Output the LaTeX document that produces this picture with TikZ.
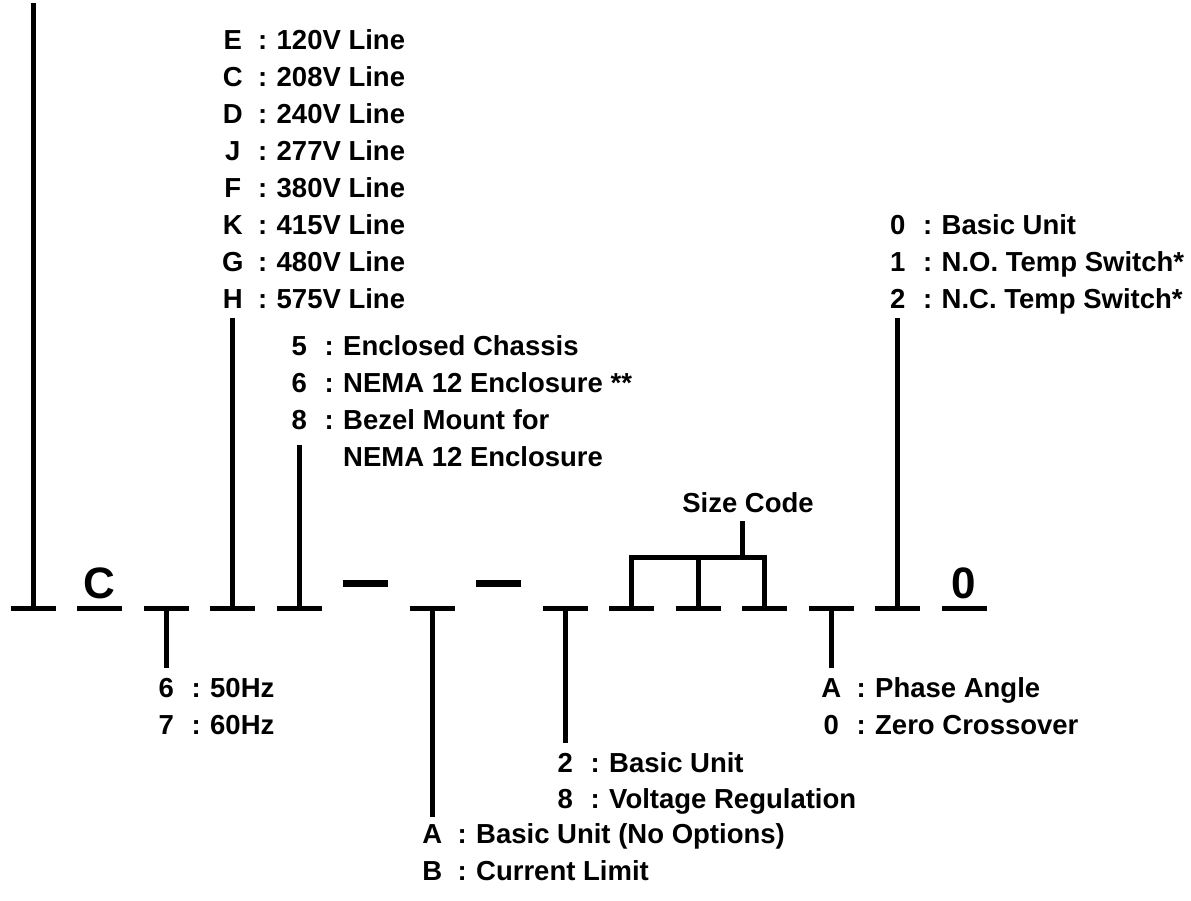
\documentclass[tikz,border=0pt]{standalone}
\usepackage{fontspec}
\setmainfont{Liberation Sans}
\tikzset{
  seg/.style={line width=5pt},
  conn/.style={line width=5pt},
  dashbar/.style={line width=7pt},
  lbl/.style={inner sep=0pt, anchor=base west, font=\fontsize{27.5}{32}\selectfont\bfseries},
  big/.style={inner sep=0pt, anchor=base, font=\fontsize{44}{50}\selectfont\bfseries},
}
\newcommand{\ent}[2]{\makebox[20pt][c]{#1}\hspace{10pt}\makebox[20pt][c]{:}\hspace{4pt}#2}
\begin{document}
\begin{tikzpicture}[x=1pt,y=-1pt]
\useasboundingbox (0,0) rectangle (1191,900);
% segment centres
\foreach \i in {0,...,14} { \coordinate (s\i) at (33+66.5*\i,608); }
\foreach \i in {0,1,2,3,4,6,8,9,10,11,12,13,14} {
  \draw[seg] ([xshift=-22.5pt]s\i) -- ([xshift=22.5pt]s\i);
}
\foreach \i in {5,7} {
  \draw[dashbar] ([xshift=-22.5pt,yshift=25pt]s\i) -- ([xshift=22.5pt,yshift=25pt]s\i);
}
% fixed characters
\node[big] (cC) at ([yshift=10pt]s1) {C};
\node[big] (c0) at ([yshift=10pt]s14) {0};
% line ends
\coordinate (t0) at (33,3);
\coordinate (t3) at (232.5,318);
\coordinate (t4) at (299,445);
\coordinate (t13) at (897.5,318);
\coordinate (b2) at (166,668);
\coordinate (b6) at (432,817);
\coordinate (b8) at (565,743);
\coordinate (b12) at (831,668);
\draw[conn] (s0) -- (t0);
\draw[conn] (s3) -- (t3);
\draw[conn] (s4) -- (t4);
\draw[conn] (s13) -- (t13);
\draw[conn] (s2) -- (b2);
\draw[conn] (s6) -- (b6);
\draw[conn] (s8) -- (b8);
\draw[conn] (s12) -- (b12);
% size code bracket
\coordinate (k9) at (631.5,557);
\coordinate (k10) at (698,557);
\coordinate (k11) at (764.5,557);
\coordinate (km) at (742,557);
\coordinate (kt) at (742,521);
\draw[conn] (s9) -- (k9) -- (k11) -- (s11);
\draw[conn] (s10) -- (k10);
\draw[conn] (km) -- (kt);
\node[lbl, anchor=base] (size) at (748,512) {Size Code};
% voltage list
\node[lbl] (vE) at (222.5,49) {\ent{E}{120V Line}};
\node[lbl] (vC) at (222.5,86) {\ent{C}{208V Line}};
\node[lbl] (vD) at (222.5,123) {\ent{D}{240V Line}};
\node[lbl] (vJ) at (222.5,160) {\ent{J}{277V Line}};
\node[lbl] (vF) at (222.5,197) {\ent{F}{380V Line}};
\node[lbl] (vK) at (222.5,234) {\ent{K}{415V Line}};
\node[lbl] (vG) at (222.5,271) {\ent{G}{480V Line}};
\node[lbl] (vH) at (222.5,308) {\ent{H}{575V Line}};
% enclosure list
\node[lbl] (e5) at (289,355) {\ent{5}{Enclosed Chassis}};
\node[lbl] (e6) at (289,392) {\ent{6}{NEMA 12 Enclosure **}};
\node[lbl] (e8) at (289,429) {\ent{8}{Bezel Mount for}};
\node[lbl] (e8b) at (343,466) {NEMA 12 Enclosure};
% temp switch list
\node[lbl] (w0) at (887.5,234) {\ent{0}{Basic Unit}};
\node[lbl] (w1) at (887.5,271) {\ent{1}{N.O. Temp Switch*}};
\node[lbl] (w2) at (887.5,308) {\ent{2}{N.C. Temp Switch*}};
% frequency
\node[lbl] (f6) at (156,697) {\ent{6}{50Hz}};
\node[lbl] (f7) at (156,734) {\ent{7}{60Hz}};
% firing
\node[lbl] (pA) at (821,697) {\ent{A}{Phase Angle}};
\node[lbl] (p0) at (821,734) {\ent{0}{Zero Crossover}};
% regulation
\node[lbl] (r2) at (555,772) {\ent{2}{Basic Unit}};
\node[lbl] (r8) at (555,808) {\ent{8}{Voltage Regulation}};
% options
\node[lbl] (oA) at (422,843) {\ent{A}{Basic Unit (No Options)}};
\node[lbl] (oB) at (422,880) {\ent{B}{Current Limit}};
\end{tikzpicture}
\end{document}
